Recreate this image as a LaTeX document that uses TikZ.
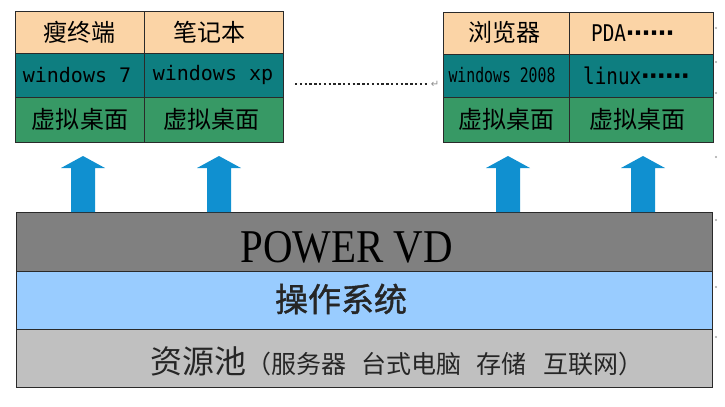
\documentclass[tikz,border=0pt]{standalone}
\usepackage{fontspec}
\setmainfont{Liberation Serif}
\newfontfamily\cjk{Noto Sans CJK SC}
\newfontfamily\cjkm[FakeBold=1.3]{Noto Sans CJK SC}
\newfontfamily\mono{DejaVu Sans Mono}
\newfontfamily\dejavu{DejaVu Sans}
\definecolor{peach}{HTML}{FBD4A6}
\definecolor{tealc}{HTML}{0E7E80}
\definecolor{greenc}{HTML}{379965}
\definecolor{arrowblue}{HTML}{1090D0}
\definecolor{pvgray}{HTML}{808080}
\definecolor{osblue}{HTML}{99CCFF}
\definecolor{poolgray}{HTML}{C0C0C0}
\definecolor{edge}{HTML}{2A2A2A}
\newcommand{\fs}[1]{\fontsize{#1bp}{#1bp}\selectfont}
\newcommand{\mdots}{{\dejavu\bfseries\fs{24}⋯⋯}}
\tikzset{
  cellbox/.style={draw=edge, line width=1.3bp, inner sep=0pt, anchor=north west},
  cntext/.style={inner sep=0pt, font=\cjk\fs{24}, text=black},
  latext/.style={inner sep=0pt, font=\mono\fs{20}, text=black},
  layerbox/.style={draw=edge, line width=1.4bp, inner sep=0pt, anchor=north west, minimum width=696bp},
  blockarrow/.style={fill=arrowblue},
  markdot/.style={fill=black!35, draw=none}
}
\begin{document}
\begin{tikzpicture}[x=1bp,y=-1bp]
\useasboundingbox (0,0) rectangle (725,406);
\fill[white] (0,0) rectangle (725,406);

% ---- left table ----
\node[cellbox, fill=peach,  minimum width=129bp, minimum height=42bp] (a1) at (15,11) {};
\node[cellbox, fill=peach,  minimum width=139bp, minimum height=42bp] (b1) at (144,11) {};
\node[cellbox, fill=tealc,  minimum width=129bp, minimum height=44bp] (a2) at (15,53) {};
\node[cellbox, fill=tealc,  minimum width=139bp, minimum height=44bp] (b2) at (144,53) {};
\node[cellbox, fill=greenc, minimum width=129bp, minimum height=45bp] (a3) at (15,97) {};
\node[cellbox, fill=greenc, minimum width=139bp, minimum height=45bp] (b3) at (144,97) {};

% ---- right table ----
\node[cellbox, fill=peach,  minimum width=126bp, minimum height=42bp] (c1) at (443,12) {};
\node[cellbox, fill=peach,  minimum width=144bp, minimum height=42bp] (d1) at (569,12) {};
\node[cellbox, fill=tealc,  minimum width=126bp, minimum height=43bp] (c2) at (443,54) {};
\node[cellbox, fill=tealc,  minimum width=144bp, minimum height=43bp] (d2) at (569,54) {};
\node[cellbox, fill=greenc, minimum width=126bp, minimum height=45bp] (c3) at (443,97) {};
\node[cellbox, fill=greenc, minimum width=144bp, minimum height=45bp] (d3) at (569,97) {};

% ---- table texts ----
\node[cntext] (ta1) at (79,32) {瘦终端};
\node[cntext] (tb1) at (209,32) {笔记本};
\node[latext] (ta2) at (77,75) {windows 7};
\node[latext] (tb2) at (213,75) {windows xp};
\node[cntext] (ta3) at (80,119) {虚拟桌面};
\node[cntext] (tb3) at (211,119) {虚拟桌面};

\node[cntext] (tc1) at (504,32) {浏览器};
\node[inner sep=0pt, anchor=base west] (td1) at (591,41) {\mono\fs{23}\scalebox{0.84}[1]{PDA}\mdots};
\node[latext] (tc2) at (502,75) {\scalebox{0.74}[1]{windows 2008}};
\node[inner sep=0pt, anchor=base west] (td2) at (583,84) {\mono\fs{23}\scalebox{0.84}[1]{linux}\mdots};
\node[cntext] (tc3) at (506,119) {虚拟桌面};
\node[cntext] (td3) at (637,119) {虚拟桌面};

% ---- dotted link ----
\coordinate (dl) at (295,84);
\coordinate (dr) at (428,84);
\draw[black!85, line width=2.6bp, dash pattern=on 2.4bp off 2.4bp] (dl) -- (dr);
\node[inner sep=0pt, text=black!45, font=\dejavu\fs{10}] (ret) at (435,84) {↵};

% ---- layers ----
\node[layerbox, fill=pvgray,  minimum height=59bp] (pv) at (16,212) {};
\node[layerbox, fill=osblue,  minimum height=58bp] (os) at (16,271) {};
\node[layerbox, fill=poolgray,minimum height=58bp] (pool) at (16,329) {};

\node[inner sep=0pt, anchor=base, font=\fs{47}] (pvt) at (346.5,262) {\scalebox{0.87}[1]{POWER VD}};
\node[inner sep=0pt, font=\cjkm\fs{33}, text=black!85] (ost) at (341,299) {操作系统};
\node[inner sep=0pt, anchor=west, text=black!85] (poolt) at (150,361)
  {\cjk\fs{32}资源池\fs{25}（服务器\hspace{0.6em}台式电脑\hspace{0.6em}存储\hspace{0.7em}互联网）};

% ---- block arrows ----
\foreach \x in {83,219,508,643}{
  \fill[blockarrow] (\x-12,212) -- (\x-12,168) -- (\x-22,168) -- (\x,156)
    -- (\x+22,168) -- (\x+12,168) -- (\x+12,212) -- cycle;
}

% ---- faint marks at right edge ----
\foreach \y in {28,62,93,157,220,287,337}{
  \fill[markdot] (716,\y) circle (1.1bp);
}
\end{tikzpicture}
\end{document}
